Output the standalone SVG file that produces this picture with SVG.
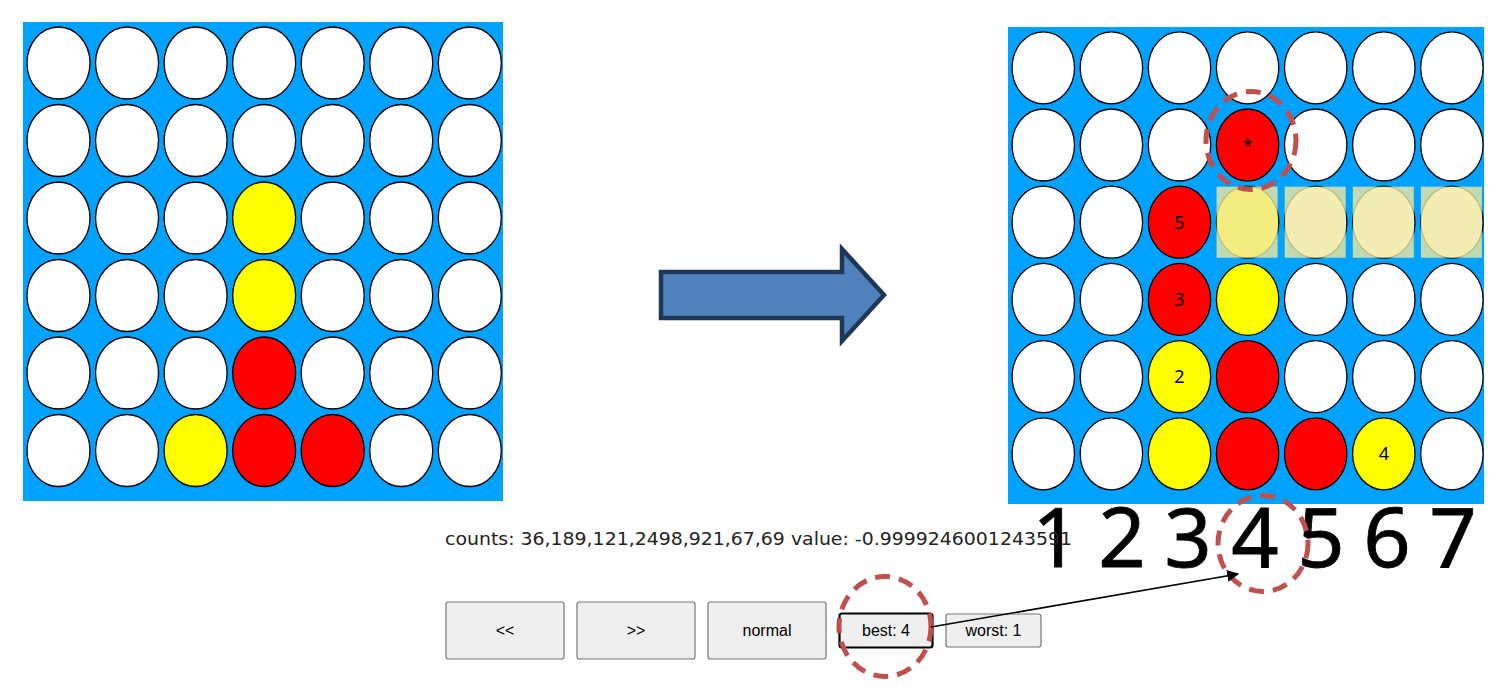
<svg xmlns="http://www.w3.org/2000/svg" width="1508" height="690" viewBox="0 0 1508 690">
<defs>
<style>
.board{fill:#00A2FF}
.w{fill:#FFFFFF;stroke:#000;stroke-width:1.3}
.r{fill:#FF0000;stroke:#000;stroke-width:1.3}
.y{fill:#FFFF00;stroke:#000;stroke-width:1.3}
.hl{fill:rgb(240,232,160);fill-opacity:0.8}
.lbl{font-family:"Noto Sans","DejaVu Sans",sans-serif;font-size:18px;fill:#000;text-anchor:middle}
.big{font-family:"Noto Sans","Open Sans",sans-serif;font-size:83px;fill:#000;text-anchor:middle;stroke:#000;stroke-width:0.8}
.btn{fill:#EFEFEF;stroke:#767676;stroke-width:1.2}
.btnt{font-family:"Liberation Sans",Arial,sans-serif;font-size:16px;fill:#000;text-anchor:middle}
.dash{fill:none;stroke:#C0504D;stroke-width:5;stroke-dasharray:15 9}
</style>
<marker id="ah" viewBox="0 0 10 10" refX="9" refY="5" markerWidth="12" markerHeight="12" markerUnits="userSpaceOnUse" orient="auto">
<path d="M0,0 L10,5 L0,10 z" fill="#000"/>
</marker>
</defs>
<rect width="1508" height="690" fill="#FFFFFF"/>

<g id="left-board">
<rect class="board" x="23" y="22" width="480" height="479"/>
<ellipse class="w" cx="58.5" cy="63" rx="31.5" ry="36"/>
<ellipse class="w" cx="127.05" cy="63" rx="31.5" ry="36"/>
<ellipse class="w" cx="195.6" cy="63" rx="31.5" ry="36"/>
<ellipse class="w" cx="264.15" cy="63" rx="31.5" ry="36"/>
<ellipse class="w" cx="332.7" cy="63" rx="31.5" ry="36"/>
<ellipse class="w" cx="401.25" cy="63" rx="31.5" ry="36"/>
<ellipse class="w" cx="469.8" cy="63" rx="31.5" ry="36"/>
<ellipse class="w" cx="58.5" cy="140.5" rx="31.5" ry="36"/>
<ellipse class="w" cx="127.05" cy="140.5" rx="31.5" ry="36"/>
<ellipse class="w" cx="195.6" cy="140.5" rx="31.5" ry="36"/>
<ellipse class="w" cx="264.15" cy="140.5" rx="31.5" ry="36"/>
<ellipse class="w" cx="332.7" cy="140.5" rx="31.5" ry="36"/>
<ellipse class="w" cx="401.25" cy="140.5" rx="31.5" ry="36"/>
<ellipse class="w" cx="469.8" cy="140.5" rx="31.5" ry="36"/>
<ellipse class="w" cx="58.5" cy="218" rx="31.5" ry="36"/>
<ellipse class="w" cx="127.05" cy="218" rx="31.5" ry="36"/>
<ellipse class="w" cx="195.6" cy="218" rx="31.5" ry="36"/>
<ellipse class="y" cx="264.15" cy="218" rx="31.5" ry="36"/>
<ellipse class="w" cx="332.7" cy="218" rx="31.5" ry="36"/>
<ellipse class="w" cx="401.25" cy="218" rx="31.5" ry="36"/>
<ellipse class="w" cx="469.8" cy="218" rx="31.5" ry="36"/>
<ellipse class="w" cx="58.5" cy="295.5" rx="31.5" ry="36"/>
<ellipse class="w" cx="127.05" cy="295.5" rx="31.5" ry="36"/>
<ellipse class="w" cx="195.6" cy="295.5" rx="31.5" ry="36"/>
<ellipse class="y" cx="264.15" cy="295.5" rx="31.5" ry="36"/>
<ellipse class="w" cx="332.7" cy="295.5" rx="31.5" ry="36"/>
<ellipse class="w" cx="401.25" cy="295.5" rx="31.5" ry="36"/>
<ellipse class="w" cx="469.8" cy="295.5" rx="31.5" ry="36"/>
<ellipse class="w" cx="58.5" cy="373" rx="31.5" ry="36"/>
<ellipse class="w" cx="127.05" cy="373" rx="31.5" ry="36"/>
<ellipse class="w" cx="195.6" cy="373" rx="31.5" ry="36"/>
<ellipse class="r" cx="264.15" cy="373" rx="31.5" ry="36"/>
<ellipse class="w" cx="332.7" cy="373" rx="31.5" ry="36"/>
<ellipse class="w" cx="401.25" cy="373" rx="31.5" ry="36"/>
<ellipse class="w" cx="469.8" cy="373" rx="31.5" ry="36"/>
<ellipse class="w" cx="58.5" cy="450.5" rx="31.5" ry="36"/>
<ellipse class="w" cx="127.05" cy="450.5" rx="31.5" ry="36"/>
<ellipse class="y" cx="195.6" cy="450.5" rx="31.5" ry="36"/>
<ellipse class="r" cx="264.15" cy="450.5" rx="31.5" ry="36"/>
<ellipse class="r" cx="332.7" cy="450.5" rx="31.5" ry="36"/>
<ellipse class="w" cx="401.25" cy="450.5" rx="31.5" ry="36"/>
<ellipse class="w" cx="469.8" cy="450.5" rx="31.5" ry="36"/>
</g>

<g id="transition-arrow">
<path d="M661,272 L842,272 L842,249 L884,295 L842,341 L842,318 L661,318 Z" fill="#4F81BD" stroke="#1F3756" stroke-width="4.5" stroke-linejoin="miter"/>
</g>

<g id="right-board">
<rect class="board" x="1008" y="27" width="476" height="477"/>
<ellipse class="w" cx="1043.3" cy="67.8" rx="31.2" ry="36"/>
<ellipse class="w" cx="1111.4" cy="67.8" rx="31.2" ry="36"/>
<ellipse class="w" cx="1179.5" cy="67.8" rx="31.2" ry="36"/>
<ellipse class="w" cx="1247.6" cy="67.8" rx="31.2" ry="36"/>
<ellipse class="w" cx="1315.7" cy="67.8" rx="31.2" ry="36"/>
<ellipse class="w" cx="1383.8" cy="67.8" rx="31.2" ry="36"/>
<ellipse class="w" cx="1451.9" cy="67.8" rx="31.2" ry="36"/>
<ellipse class="w" cx="1043.3" cy="145" rx="31.2" ry="36"/>
<ellipse class="w" cx="1111.4" cy="145" rx="31.2" ry="36"/>
<ellipse class="w" cx="1179.5" cy="145" rx="31.2" ry="36"/>
<ellipse class="r" cx="1247.6" cy="145" rx="31.2" ry="36"/>
<ellipse class="w" cx="1315.7" cy="145" rx="31.2" ry="36"/>
<ellipse class="w" cx="1383.8" cy="145" rx="31.2" ry="36"/>
<ellipse class="w" cx="1451.9" cy="145" rx="31.2" ry="36"/>
<ellipse class="w" cx="1043.3" cy="222.2" rx="31.2" ry="36"/>
<ellipse class="w" cx="1111.4" cy="222.2" rx="31.2" ry="36"/>
<ellipse class="r" cx="1179.5" cy="222.2" rx="31.2" ry="36"/>
<ellipse class="y" cx="1247.6" cy="222.2" rx="31.2" ry="36"/>
<ellipse class="w" cx="1315.7" cy="222.2" rx="31.2" ry="36"/>
<ellipse class="w" cx="1383.8" cy="222.2" rx="31.2" ry="36"/>
<ellipse class="w" cx="1451.9" cy="222.2" rx="31.2" ry="36"/>
<ellipse class="w" cx="1043.3" cy="299.4" rx="31.2" ry="36"/>
<ellipse class="w" cx="1111.4" cy="299.4" rx="31.2" ry="36"/>
<ellipse class="r" cx="1179.5" cy="299.4" rx="31.2" ry="36"/>
<ellipse class="y" cx="1247.6" cy="299.4" rx="31.2" ry="36"/>
<ellipse class="w" cx="1315.7" cy="299.4" rx="31.2" ry="36"/>
<ellipse class="w" cx="1383.8" cy="299.4" rx="31.2" ry="36"/>
<ellipse class="w" cx="1451.9" cy="299.4" rx="31.2" ry="36"/>
<ellipse class="w" cx="1043.3" cy="376.6" rx="31.2" ry="36"/>
<ellipse class="w" cx="1111.4" cy="376.6" rx="31.2" ry="36"/>
<ellipse class="y" cx="1179.5" cy="376.6" rx="31.2" ry="36"/>
<ellipse class="r" cx="1247.6" cy="376.6" rx="31.2" ry="36"/>
<ellipse class="w" cx="1315.7" cy="376.6" rx="31.2" ry="36"/>
<ellipse class="w" cx="1383.8" cy="376.6" rx="31.2" ry="36"/>
<ellipse class="w" cx="1451.9" cy="376.6" rx="31.2" ry="36"/>
<ellipse class="w" cx="1043.3" cy="453.8" rx="31.2" ry="36"/>
<ellipse class="w" cx="1111.4" cy="453.8" rx="31.2" ry="36"/>
<ellipse class="y" cx="1179.5" cy="453.8" rx="31.2" ry="36"/>
<ellipse class="r" cx="1247.6" cy="453.8" rx="31.2" ry="36"/>
<ellipse class="r" cx="1315.7" cy="453.8" rx="31.2" ry="36"/>
<ellipse class="y" cx="1383.8" cy="453.8" rx="31.2" ry="36"/>
<ellipse class="w" cx="1451.9" cy="453.8" rx="31.2" ry="36"/>
<rect class="hl" x="1216.6" y="186.7" width="61" height="71"/>
<rect class="hl" x="1284.7" y="186.7" width="61" height="71"/>
<rect class="hl" x="1352.8" y="186.7" width="61" height="71"/>
<rect class="hl" x="1420.9" y="186.7" width="61" height="71"/>
<text class="lbl" x="1247.6" y="152">*</text>
<text class="lbl" x="1179.5" y="228.8">5</text>
<text class="lbl" x="1179.5" y="306">3</text>
<text class="lbl" x="1179.5" y="383.2">2</text>
<text class="lbl" x="1383.8" y="460.4">4</text>
</g>

<g id="column-numbers">
<text class="big" x="1056" y="567">1</text>
<text class="big" x="1122" y="567">2</text>
<text class="big" x="1188" y="567">3</text>
<text class="big" x="1255" y="567">4</text>
<text class="big" x="1321" y="567">5</text>
<text class="big" x="1387" y="567">6</text>
<text class="big" x="1453" y="567">7</text>
</g>

<g id="counts-text">
<text x="445" y="545" font-family="'DejaVu Sans',Verdana,sans-serif" font-size="18.5" fill="#222" textLength="627" lengthAdjust="spacingAndGlyphs">counts: 36,189,121,2498,921,67,69 value: -0.9999246001243591</text>
</g>

<g id="btn-prev">
<rect class="btn" x="446" y="602" width="118" height="57" rx="2.5"/>
<text class="btnt" x="505" y="636">&lt;&lt;</text>
</g>
<g id="btn-next">
<rect class="btn" x="577" y="602" width="118" height="57" rx="2.5"/>
<text class="btnt" x="636" y="636">&gt;&gt;</text>
</g>
<g id="btn-normal">
<rect class="btn" x="708" y="602" width="118" height="57" rx="2.5"/>
<text class="btnt" x="767" y="636">normal</text>
</g>
<g id="btn-best">
<rect x="839.5" y="613.5" width="93" height="34" rx="2.5" fill="#EFEFEF" stroke="#000" stroke-width="2.2"/>
<text class="btnt" x="886" y="636">best: 4</text>
</g>
<g id="btn-worst">
<rect class="btn" x="946" y="614" width="95" height="33" rx="2.5"/>
<text class="btnt" x="993.5" y="636">worst: 1</text>
</g>

<g id="highlight-circles">
<ellipse class="dash" cx="1251" cy="140.5" rx="45" ry="49"/>
<ellipse class="dash" cx="1263" cy="543.5" rx="45" ry="48"/>
<ellipse class="dash" cx="885" cy="626.5" rx="46" ry="50"/>
</g>

<g id="connectors">
<line x1="931" y1="627" x2="1238" y2="574" stroke="#000" stroke-width="1.6" marker-end="url(#ah)"/>
</g>
</svg>
